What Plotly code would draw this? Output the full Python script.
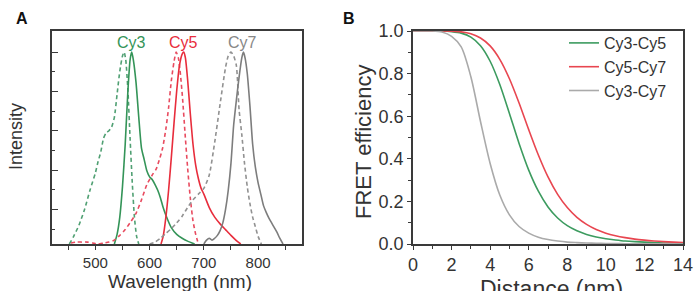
import plotly.graph_objects as go

# ---------------- Panel A: normalized spectra ----------------
cy3_abs_wl = [452, 460, 470, 480, 490, 500, 505, 510, 515, 520, 525, 530, 535, 540, 545, 550, 553, 556, 560, 564, 568, 572, 576, 580]
cy3_abs_i = [0, 0.04, 0.10, 0.18, 0.28, 0.37, 0.43, 0.48, 0.55, 0.58, 0.59, 0.61, 0.66, 0.78, 0.90, 0.98, 1.0, 0.96, 0.80, 0.55, 0.32, 0.14, 0.04, 0.0]

cy3_em_wl = [535, 540, 545, 550, 555, 560, 564, 567, 570, 575, 580, 585, 590, 595, 600, 605, 610, 615, 620, 625, 630, 640, 650, 660, 670, 683]
cy3_em_i = [0, 0.05, 0.14, 0.30, 0.52, 0.80, 0.96, 1.0, 0.96, 0.84, 0.66, 0.50, 0.44, 0.38, 0.35, 0.335, 0.31, 0.28, 0.24, 0.19, 0.15, 0.085, 0.05, 0.03, 0.015, 0]

cy5_abs_wl = [455, 465, 475, 485, 495, 505, 515, 525, 535, 545, 555, 565, 575, 585, 595, 605, 612, 618, 624, 630, 635, 640, 645, 649, 653, 657, 661, 665, 670, 675, 680, 685, 690]
cy5_abs_i = [0.005, 0.01, 0.01, 0.01, 0.005, 0.0, 0.005, 0.01, 0.02, 0.045, 0.075, 0.115, 0.16, 0.23, 0.31, 0.36, 0.39, 0.44, 0.50, 0.60, 0.71, 0.85, 0.95, 1.0, 0.97, 0.88, 0.75, 0.59, 0.40, 0.24, 0.12, 0.05, 0.0]

cy5_em_wl = [621, 625, 630, 635, 640, 645, 650, 655, 660, 663, 666, 670, 675, 680, 685, 690, 695, 700, 710, 720, 730, 740, 750, 760, 768]
cy5_em_i = [0, 0.04, 0.14, 0.28, 0.45, 0.63, 0.80, 0.93, 0.99, 1.0, 0.97, 0.86, 0.68, 0.52, 0.41, 0.34, 0.29, 0.26, 0.19, 0.14, 0.105, 0.075, 0.045, 0.018, 0.0]

cy7_abs_wl = [600, 610, 620, 630, 640, 650, 660, 670, 680, 690, 700, 710, 720, 730, 740, 745, 750, 755, 760, 765, 770, 775, 780, 785, 790, 795, 800, 806]
cy7_abs_i = [0, 0.01, 0.03, 0.055, 0.08, 0.11, 0.145, 0.19, 0.23, 0.26, 0.29, 0.36, 0.53, 0.73, 0.92, 0.98, 1.0, 0.98, 0.93, 0.70, 0.57, 0.42, 0.30, 0.21, 0.14, 0.09, 0.04, 0.0]

cy7_em_wl = [700, 705, 710, 715, 720, 725, 730, 735, 740, 745, 750, 755, 760, 765, 770, 773, 776, 780, 785, 790, 795, 800, 805, 810, 815, 820, 825, 830, 835, 840, 846]
cy7_em_i = [0.0, 0.02, 0.03, 0.02, 0.03, 0.045, 0.07, 0.11, 0.18, 0.28, 0.42, 0.62, 0.75, 0.87, 0.97, 1.0, 0.97, 0.89, 0.72, 0.52, 0.40, 0.32, 0.26, 0.20, 0.165, 0.135, 0.11, 0.085, 0.06, 0.03, 0.0]

dye_labels = ["Cy3", "Cy5", "Cy7"]
dye_label_wl = [567, 663, 772]

# ---------------- Panel B: FRET efficiency ----------------
distance_nm = [0, 0.5, 1, 1.5, 2, 2.5, 3, 3.5, 4, 4.5, 5, 5.5, 6, 6.5, 7, 7.5, 8, 8.5, 9, 9.5, 10, 10.5, 11, 11.5, 12, 12.5, 13, 13.5, 14]
fret_cy3_cy5 = [1.0, 1.0, 1.0, 1.0, 0.997, 0.99, 0.971, 0.931, 0.858, 0.749, 0.613, 0.472, 0.347, 0.248, 0.174, 0.122, 0.086, 0.062, 0.045, 0.033, 0.025, 0.019, 0.014, 0.011, 0.009, 0.007, 0.005, 0.004, 0.003]
fret_cy5_cy7 = [1.0, 1.0, 1.0, 1.0, 0.999, 0.996, 0.987, 0.967, 0.930, 0.867, 0.776, 0.662, 0.537, 0.418, 0.315, 0.233, 0.171, 0.125, 0.092, 0.068, 0.051, 0.039, 0.030, 0.023, 0.018, 0.014, 0.011, 0.009, 0.007]
fret_cy3_cy7 = [1.0, 1.0, 1.0, 0.995, 0.975, 0.925, 0.785, 0.575, 0.378, 0.230, 0.137, 0.082, 0.051, 0.032, 0.021, 0.014, 0.009, 0.0065, 0.0046, 0.0034, 0.0025, 0.0019, 0.0014, 0.001, 0.0008, 0.0006, 0.0005, 0.0004, 0.0003]
fret_names = ["Cy3-Cy5", "Cy5-Cy7", "Cy3-Cy7"]

axis_titles = ["Wavelength (nm)", "Intensity", "Distance (nm)", "FRET efficiency"]

GREEN = "rgb(52,148,88)"
GREEN_D = "rgb(80,160,115)"
RED = "rgb(232,45,60)"
RED_D = "rgb(232,75,95)"
GRAY = "rgb(125,125,125)"
GRAY_D = "rgb(145,145,145)"
B_COLORS = ["rgb(60,155,95)", "rgb(232,70,80)", "rgb(170,170,170)"]
FONT = "Liberation Sans, Arial, sans-serif"
AX = "#3a3a3a"
W, H = 694, 291

fig = go.Figure()

spectra = [
    (cy3_abs_wl, cy3_abs_i, GREEN_D, "dash"),
    (cy3_em_wl, cy3_em_i, GREEN, "solid"),
    (cy5_abs_wl, cy5_abs_i, RED_D, "dash"),
    (cy5_em_wl, cy5_em_i, RED, "solid"),
    (cy7_abs_wl, cy7_abs_i, GRAY_D, "dash"),
    (cy7_em_wl, cy7_em_i, GRAY, "solid"),
]
for wl, inten, col, dash in spectra:
    fig.add_trace(go.Scatter(
        x=wl, y=inten, mode="lines", showlegend=False,
        line=dict(color=col, width=1.6, dash="4px,3px" if dash == "dash" else "solid",
                  shape="spline", smoothing=0.6),
        xaxis="x", yaxis="y"))

for name, vals, col in zip(fret_names, [fret_cy3_cy5, fret_cy5_cy7, fret_cy3_cy7], B_COLORS):
    fig.add_trace(go.Scatter(
        x=distance_nm, y=vals, mode="lines", name=name,
        line=dict(color=col, width=1.6, shape="spline", smoothing=0.8),
        xaxis="x2", yaxis="y2"))

label_colors = ["rgb(52,148,88)", "rgb(232,45,60)", "rgb(135,135,135)"]
for lab, wl, col in zip(dye_labels, dye_label_wl, label_colors):
    fig.add_annotation(x=wl, y=1.0, xref="x", yref="y", text=lab, showarrow=False,
                       yanchor="bottom", yshift=-1, font=dict(size=16, color=col, family=FONT))


def paper_text(text, px, py, size, angle=0, color="#333"):
    fig.add_annotation(x=px / W, y=1 - py / H, xref="paper", yref="paper", text=text,
                       showarrow=False, xanchor="center", yanchor="middle", textangle=angle,
                       font=dict(size=size, color=color, family=FONT))


paper_text("<b>A</b>", 22, 19, 16, color="#111")
paper_text("<b>B</b>", 349, 19, 16, color="#111")
paper_text(axis_titles[0], 180, 281, 19)
paper_text(axis_titles[1], 16, 137, 18, angle=-90)
paper_text(axis_titles[2], 551, 289, 23)
paper_text(axis_titles[3], 363, 142, 22, angle=-90)

ydom = [1 - 244 / H, 1 - 31 / H]

fig.update_layout(
    width=W, height=H,
    margin=dict(l=0, r=0, t=0, b=0, autoexpand=False),
    paper_bgcolor="white", plot_bgcolor="white",
    font=dict(family=FONT, color="#333"),
    showlegend=True,
    legend=dict(x=564 / W, y=1 - 26 / H, xanchor="left", yanchor="top",
                bgcolor="rgba(0,0,0,0)", font=dict(size=16, color="#333", family=FONT),
                itemwidth=30, tracegroupgap=0),
    xaxis=dict(domain=[52 / W, 302 / W], range=[420, 881], automargin=False,
               tickmode="array", tickvals=[500, 600, 700, 800], ticks="outside", ticklen=4,
               tickcolor=AX, tickwidth=1.2,
               minor=dict(tickmode="array", tickvals=[450, 550, 650, 750, 850], ticks="outside",
                          ticklen=4, tickcolor=AX, tickwidth=1.2),
               showline=True, linecolor=AX, linewidth=1.5, mirror=True, showgrid=False, zeroline=False,
               tickfont=dict(size=15, color="#333")),
    yaxis=dict(domain=ydom, range=[0, 1.11], automargin=False,
               tickmode="array", tickvals=[0.18, 0.385, 0.59, 0.795, 1.0], ticks="inside", ticklen=6,
               tickcolor=AX, tickwidth=1.2, showticklabels=False,
               minor=dict(tickmode="array", tickvals=[0.078, 0.283, 0.488, 0.693, 0.898], ticks="inside",
                          ticklen=3, tickcolor=AX, tickwidth=1.2),
               showline=True, linecolor=AX, linewidth=1.5, mirror=True, showgrid=False, zeroline=False),
    xaxis2=dict(domain=[413 / W, 683 / W], range=[0, 14], anchor="y2", automargin=False,
                tickmode="linear", tick0=0, dtick=2, ticks="outside", ticklen=4,
                tickcolor=AX, tickwidth=1.2,
                minor=dict(tickmode="linear", tick0=1, dtick=2, ticks="outside", ticklen=3,
                           tickcolor=AX, tickwidth=1.2),
                showline=True, linecolor=AX, linewidth=1.5, mirror=True, showgrid=False, zeroline=False,
                tickfont=dict(size=18, color="#333")),
    yaxis2=dict(domain=ydom, range=[0, 1.0], anchor="x2", automargin=False,
                tickmode="linear", tick0=0, dtick=0.2, tickformat=".1f", ticks="outside", ticklen=4,
                tickcolor=AX, tickwidth=1.2,
                minor=dict(tickmode="linear", tick0=0.1, dtick=0.2, ticks="outside", ticklen=3,
                           tickcolor=AX, tickwidth=1.2),
                showline=True, linecolor=AX, linewidth=1.5, mirror=True, showgrid=False, zeroline=False,
                tickfont=dict(size=18, color="#333")),
)

fig.write_html("out.html")
